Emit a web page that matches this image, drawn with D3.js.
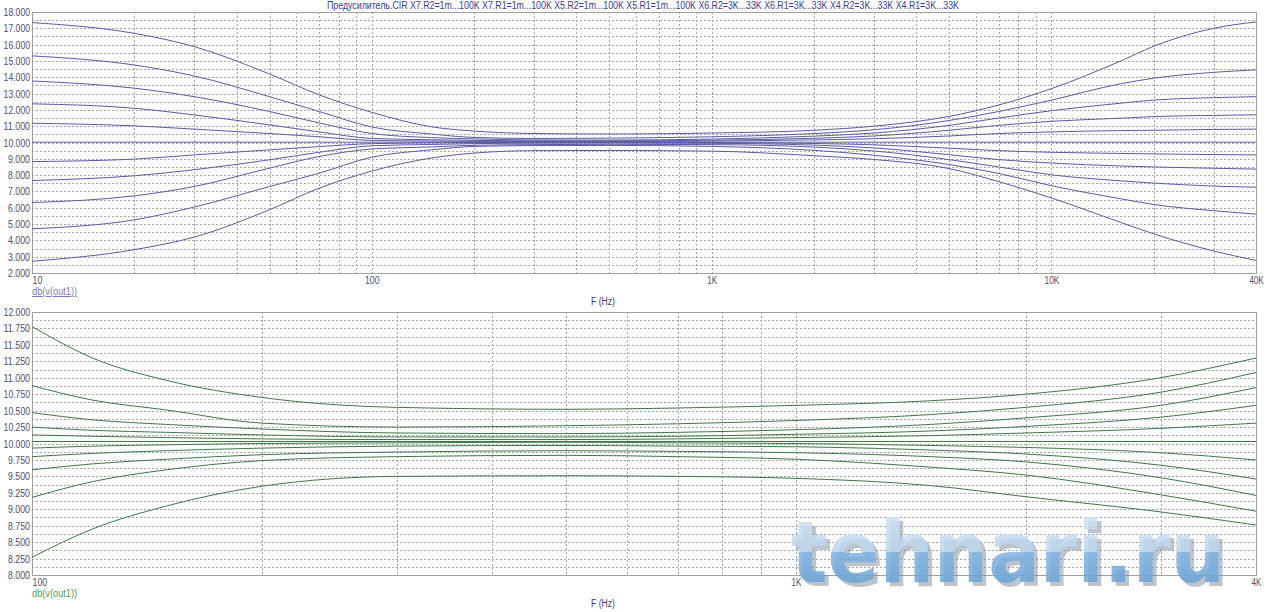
<!DOCTYPE html>
<html>
<head>
<meta charset="utf-8">
<script src="https://cdn.jsdelivr.net/npm/d3@7"></script>
<style>
  body { margin: 0; background: #fff; }
  svg { display: block; }
  text { font-family: 'Liberation Sans', Arial, sans-serif; }
</style>
</head>
<body>
<script>
// --- data ---
var titleText = 'Предусилитель.CIR X7.R2=1m...100K X7.R1=1m...100K X5.R2=1m...100K X5.R1=1m...100K X6.R2=3K...33K X6.R1=3K...33K X4.R2=3K...33K X4.R1=3K...33K';

var topFreqs = [10, 20, 30, 50, 70, 100, 150, 200, 300, 500, 1000, 2000, 3000, 5000, 7000, 10000, 16000, 20000, 30000, 40000];
var topSeries = [
    [17.35, 16.69, 15.88, 14.2, 12.92, 11.85, 10.96, 10.70, 10.55, 10.52, 10.58, 10.75, 11.00, 11.6, 12.3, 13.3, 15.0, 15.9, 17.0, 17.39],
    [15.31, 14.75, 14.08, 12.81, 11.9, 10.95, 10.52, 10.31, 10.25, 10.27, 10.35, 10.55, 10.78, 11.35, 11.9, 12.6, 13.6, 13.94, 14.3, 14.45],
    [13.77, 13.33, 12.81, 11.9, 11.2, 10.55, 10.3, 10.22, 10.16, 10.15, 10.21, 10.39, 10.58, 11.05, 11.5, 11.95, 12.41, 12.6, 12.75, 12.81],
    [12.37, 12.1, 11.69, 11.08, 10.65, 10.25, 10.17, 10.13, 10.10, 10.10, 10.14, 10.26, 10.40, 10.75, 11.05, 11.3, 11.49, 11.59, 11.66, 11.7],
    [11.18, 11.02, 10.82, 10.55, 10.35, 10.13, 10.09, 10.07, 10.06, 10.06, 10.09, 10.16, 10.23, 10.4, 10.55, 10.65, 10.73, 10.75, 10.8, 10.82],
    [10.02, 10.02, 10.02, 10.02, 10.02, 10.02, 10.02, 10.02, 10.02, 10.02, 10.02, 10.02, 10.02, 10.02, 10.02, 10.02, 10.02, 10.02, 10.02, 10.02],
    [8.83, 8.98, 9.24, 9.55, 9.75, 9.93, 9.98, 10.0, 10.01, 10.02, 10.0, 9.94, 9.86, 9.65, 9.5, 9.4, 9.33, 9.3, 9.26, 9.24],
    [7.67, 7.96, 8.33, 8.94, 9.4, 9.8, 9.88, 9.93, 9.96, 9.97, 9.95, 9.84, 9.67, 9.25, 8.95, 8.74, 8.56, 8.5, 8.42, 8.37],
    [6.32, 6.73, 7.3, 8.43, 9.14, 9.6, 9.73, 9.83, 9.87, 9.89, 9.87, 9.72, 9.48, 8.95, 8.5, 8.02, 7.65, 7.51, 7.33, 7.26],
    [4.71, 5.26, 6.04, 7.3, 8.12, 9.1, 9.55, 9.76, 9.81, 9.82, 9.76, 9.52, 9.22, 8.65, 8.1, 7.35, 6.55, 6.2, 5.82, 5.61],
    [2.72, 3.43, 4.2, 5.88, 7.2, 8.25, 9.05, 9.35, 9.50, 9.51, 9.47, 9.19, 8.96, 8.4, 7.6, 6.6, 5.1, 4.4, 3.35, 2.77]
];
var topYTicks = [2, 3, 4, 5, 6, 7, 8, 9, 10, 11, 12, 13, 14, 15, 16, 17, 18];
var topXTicks = [10, 100, 1000, 10000, 40000];
var topXLabels = ['10', '100', '1K', '10K', '40K'];

var bottomFreqs = [100, 120, 150, 200, 300, 500, 700, 1000, 1500, 2000, 3000, 4000];
var bottomSeries = [
    [11.78, 11.30, 10.96, 10.70, 10.55, 10.52, 10.54, 10.58, 10.65, 10.75, 11.00, 11.30],
    [10.88, 10.66, 10.51, 10.31, 10.25, 10.27, 10.30, 10.35, 10.44, 10.55, 10.78, 11.08],
    [10.47, 10.36, 10.29, 10.22, 10.16, 10.15, 10.17, 10.21, 10.29, 10.39, 10.58, 10.85],
    [10.25, 10.20, 10.17, 10.13, 10.10, 10.10, 10.11, 10.14, 10.19, 10.26, 10.40, 10.58],
    [10.13, 10.11, 10.09, 10.07, 10.06, 10.06, 10.07, 10.09, 10.12, 10.16, 10.23, 10.31],
    [10.03, 10.03, 10.03, 10.03, 10.03, 10.03, 10.03, 10.03, 10.03, 10.03, 10.03, 10.03],
    [9.93, 9.96, 9.98, 10.0, 10.01, 10.02, 10.01, 10.0, 9.97, 9.94, 9.86, 9.75],
    [9.80, 9.85, 9.89, 9.93, 9.96, 9.97, 9.96, 9.95, 9.90, 9.84, 9.67, 9.46],
    [9.60, 9.69, 9.76, 9.83, 9.87, 9.89, 9.88, 9.86, 9.80, 9.72, 9.48, 9.21],
    [9.18, 9.42, 9.60, 9.74, 9.80, 9.82, 9.80, 9.76, 9.64, 9.52, 9.22, 8.97],
    [8.27, 8.70, 9.05, 9.35, 9.50, 9.51, 9.50, 9.47, 9.36, 9.19, 8.96, 8.76]
];
var bottomYTicks = [8, 8.25, 8.5, 8.75, 9, 9.25, 9.5, 9.75, 10, 10.25, 10.5, 10.75, 11, 11.25, 11.5, 11.75, 12];
var bottomXTicks = [100, 1000, 4000];
var bottomXLabels = ['100', '1K', '4K'];

var width = 1280, height = 612;
var gridColor = '#a8a8a8', frameColor = '#a0a0a0', tickColor = '#4e4e6e';

var svg = d3.select('body').append('svg').attr('width', width).attr('height', height);
svg.append('rect').attr('width', width).attr('height', height).attr('fill', '#fff');

// the original uses a narrow font, so squeeze the labels to its widths
function squeeze(sel, perChar) {
    sel.attr('textLength', function() { return this.textContent.length * perChar; })
        .attr('lengthAdjust', 'spacingAndGlyphs');
}

svg.append('text').attr('x', 643).attr('y', 9).attr('text-anchor', 'middle')
    .attr('textLength', 632).attr('lengthAdjust', 'spacingAndGlyphs')
    .attr('style', 'font-size:10px; fill:#3b3b9c').text(titleText);

function drawPanel(opts) {
    var x = d3.scaleLog().domain(opts.xDomain).range([opts.left, opts.right]);
    var y = d3.scaleLinear().domain(opts.yDomain).range([opts.bottom, opts.top]);
    var g = svg.append('g');

    // grid
    g.selectAll('.hgrid').data(opts.yGrid).enter().append('line')
        .attr('x1', opts.left).attr('x2', opts.right)
        .attr('y1', function(d) { return Math.round(y(d)) + 0.5; })
        .attr('y2', function(d) { return Math.round(y(d)) + 0.5; })
        .attr('stroke', gridColor).attr('stroke-dasharray', '2,2');
    g.selectAll('.vgrid').data(x.ticks()).enter().append('line')
        .attr('x1', function(d) { return Math.round(x(d)) + 0.5; })
        .attr('x2', function(d) { return Math.round(x(d)) + 0.5; })
        .attr('y1', opts.top).attr('y2', opts.bottom)
        .attr('stroke', gridColor).attr('stroke-dasharray', '2,2');

    // frame
    g.append('rect').attr('x', opts.left + 0.5).attr('y', opts.top + 0.5)
        .attr('width', opts.right - opts.left).attr('height', opts.bottom - opts.top)
        .attr('fill', 'none').attr('stroke', frameColor);

    // y axis labels
    var yAxis = d3.axisLeft(y).tickValues(opts.yTicks).tickFormat(d3.format('.3f')).tickSize(0).tickPadding(2);
    var ya = g.append('g').attr('transform', 'translate(' + opts.left + ',0)').call(yAxis);
    ya.select('.domain').remove();
    ya.selectAll('text').attr('style', 'font-size:11px; fill:' + tickColor).call(squeeze, 4.4);

    // x axis labels
    var xAxis = d3.axisBottom(x).tickValues(opts.xTicks).tickSize(0).tickPadding(3)
        .tickFormat(function(d, i) { return opts.xLabels[i]; });
    var xa = g.append('g').attr('transform', 'translate(0,' + opts.bottom + ')').call(xAxis);
    xa.select('.domain').remove();
    xa.selectAll('text').attr('style', 'font-size:11px; fill:' + tickColor)
        .attr('text-anchor', function(d, i) { return i == 0 ? 'start' : 'middle'; })
        .call(squeeze, 4.9);

    g.append('text').attr('x', opts.left).attr('y', opts.bottom + 22)
        .attr('style', 'font-size:10px; fill:' + opts.keyColor + '; text-decoration:' + opts.keyDecoration)
        .text('db(v(out1))').call(squeeze, 4.1);
    g.append('text').attr('x', 603).attr('y', opts.bottom + 32).attr('text-anchor', 'middle')
        .attr('style', 'font-size:10px; fill:#3b3b7c').text('F (Hz)').call(squeeze, 4.0);

    // curves
    var clipId = 'clip' + opts.top;
    g.append('clipPath').attr('id', clipId).append('rect')
        .attr('x', opts.left).attr('y', opts.top)
        .attr('width', opts.right - opts.left).attr('height', opts.bottom - opts.top);
    var line = d3.line()
        .x(function(d) { return x(d[0]); })
        .y(function(d) { return y(d[1]); })
        .curve(d3.curveMonotoneX);
    g.append('g').attr('clip-path', 'url(#' + clipId + ')')
        .selectAll('path').data(opts.series).enter().append('path')
        .attr('d', function(s) { return line(s.map(function(v, i) { return [opts.freqs[i], v]; })); })
        .attr('fill', 'none').attr('stroke', opts.lineColor).attr('stroke-width', 1);
}

drawPanel({
    left: 32, right: 1256, top: 12, bottom: 273,
    xDomain: [10, 40000], yDomain: [2, 18],
    yTicks: topYTicks, yGrid: d3.range(2.5, 18, 0.5),
    xTicks: topXTicks, xLabels: topXLabels,
    freqs: topFreqs, series: topSeries,
    lineColor: '#5a5aa2', keyColor: '#7b7bb8', keyDecoration: 'underline'
});

drawPanel({
    left: 32, right: 1256, top: 312, bottom: 575,
    xDomain: [100, 4000], yDomain: [8, 12],
    yTicks: bottomYTicks, yGrid: d3.range(8.125, 12, 0.125),
    xTicks: bottomXTicks, xLabels: bottomXLabels,
    freqs: bottomFreqs, series: bottomSeries,
    lineColor: '#3f7646', keyColor: '#4f9a4f', keyDecoration: 'none'
});

// watermark, squeezed with a transform so its box matches what is drawn
var defs = svg.append('defs');
var wm = defs.append('linearGradient').attr('id', 'wmGrad').attr('gradientUnits', 'objectBoundingBox')
    .attr('x1', 0).attr('y1', 0.15).attr('x2', 0).attr('y2', 0.85);
wm.append('stop').attr('offset', '0').attr('stop-color', '#cfe2f3');
wm.append('stop').attr('offset', '0.5').attr('stop-color', '#bcd6ee');
wm.append('stop').attr('offset', '0.5').attr('stop-color', '#82b5e1');
wm.append('stop').attr('offset', '1').attr('stop-color', '#66a2d6');

function watermark(x0, y0, fill, opacity) {
    var t = svg.append('text').attr('x', 0).attr('y', 0)
        .attr('style', "font-family:'DejaVu Sans', sans-serif; font-size:86px; font-weight:bold; fill:" + fill + "; opacity:" + opacity)
        .text('tehnari.ru');
    var w = t.node().getComputedTextLength();
    t.attr('transform', 'translate(' + x0 + ',' + y0 + ') scale(' + (434 / w) + ',1)');
}
watermark(795, 586, '#7d8b99', 0.5);
watermark(791, 582, 'url(#wmGrad)', 0.85);
</script>
</body>
</html>
